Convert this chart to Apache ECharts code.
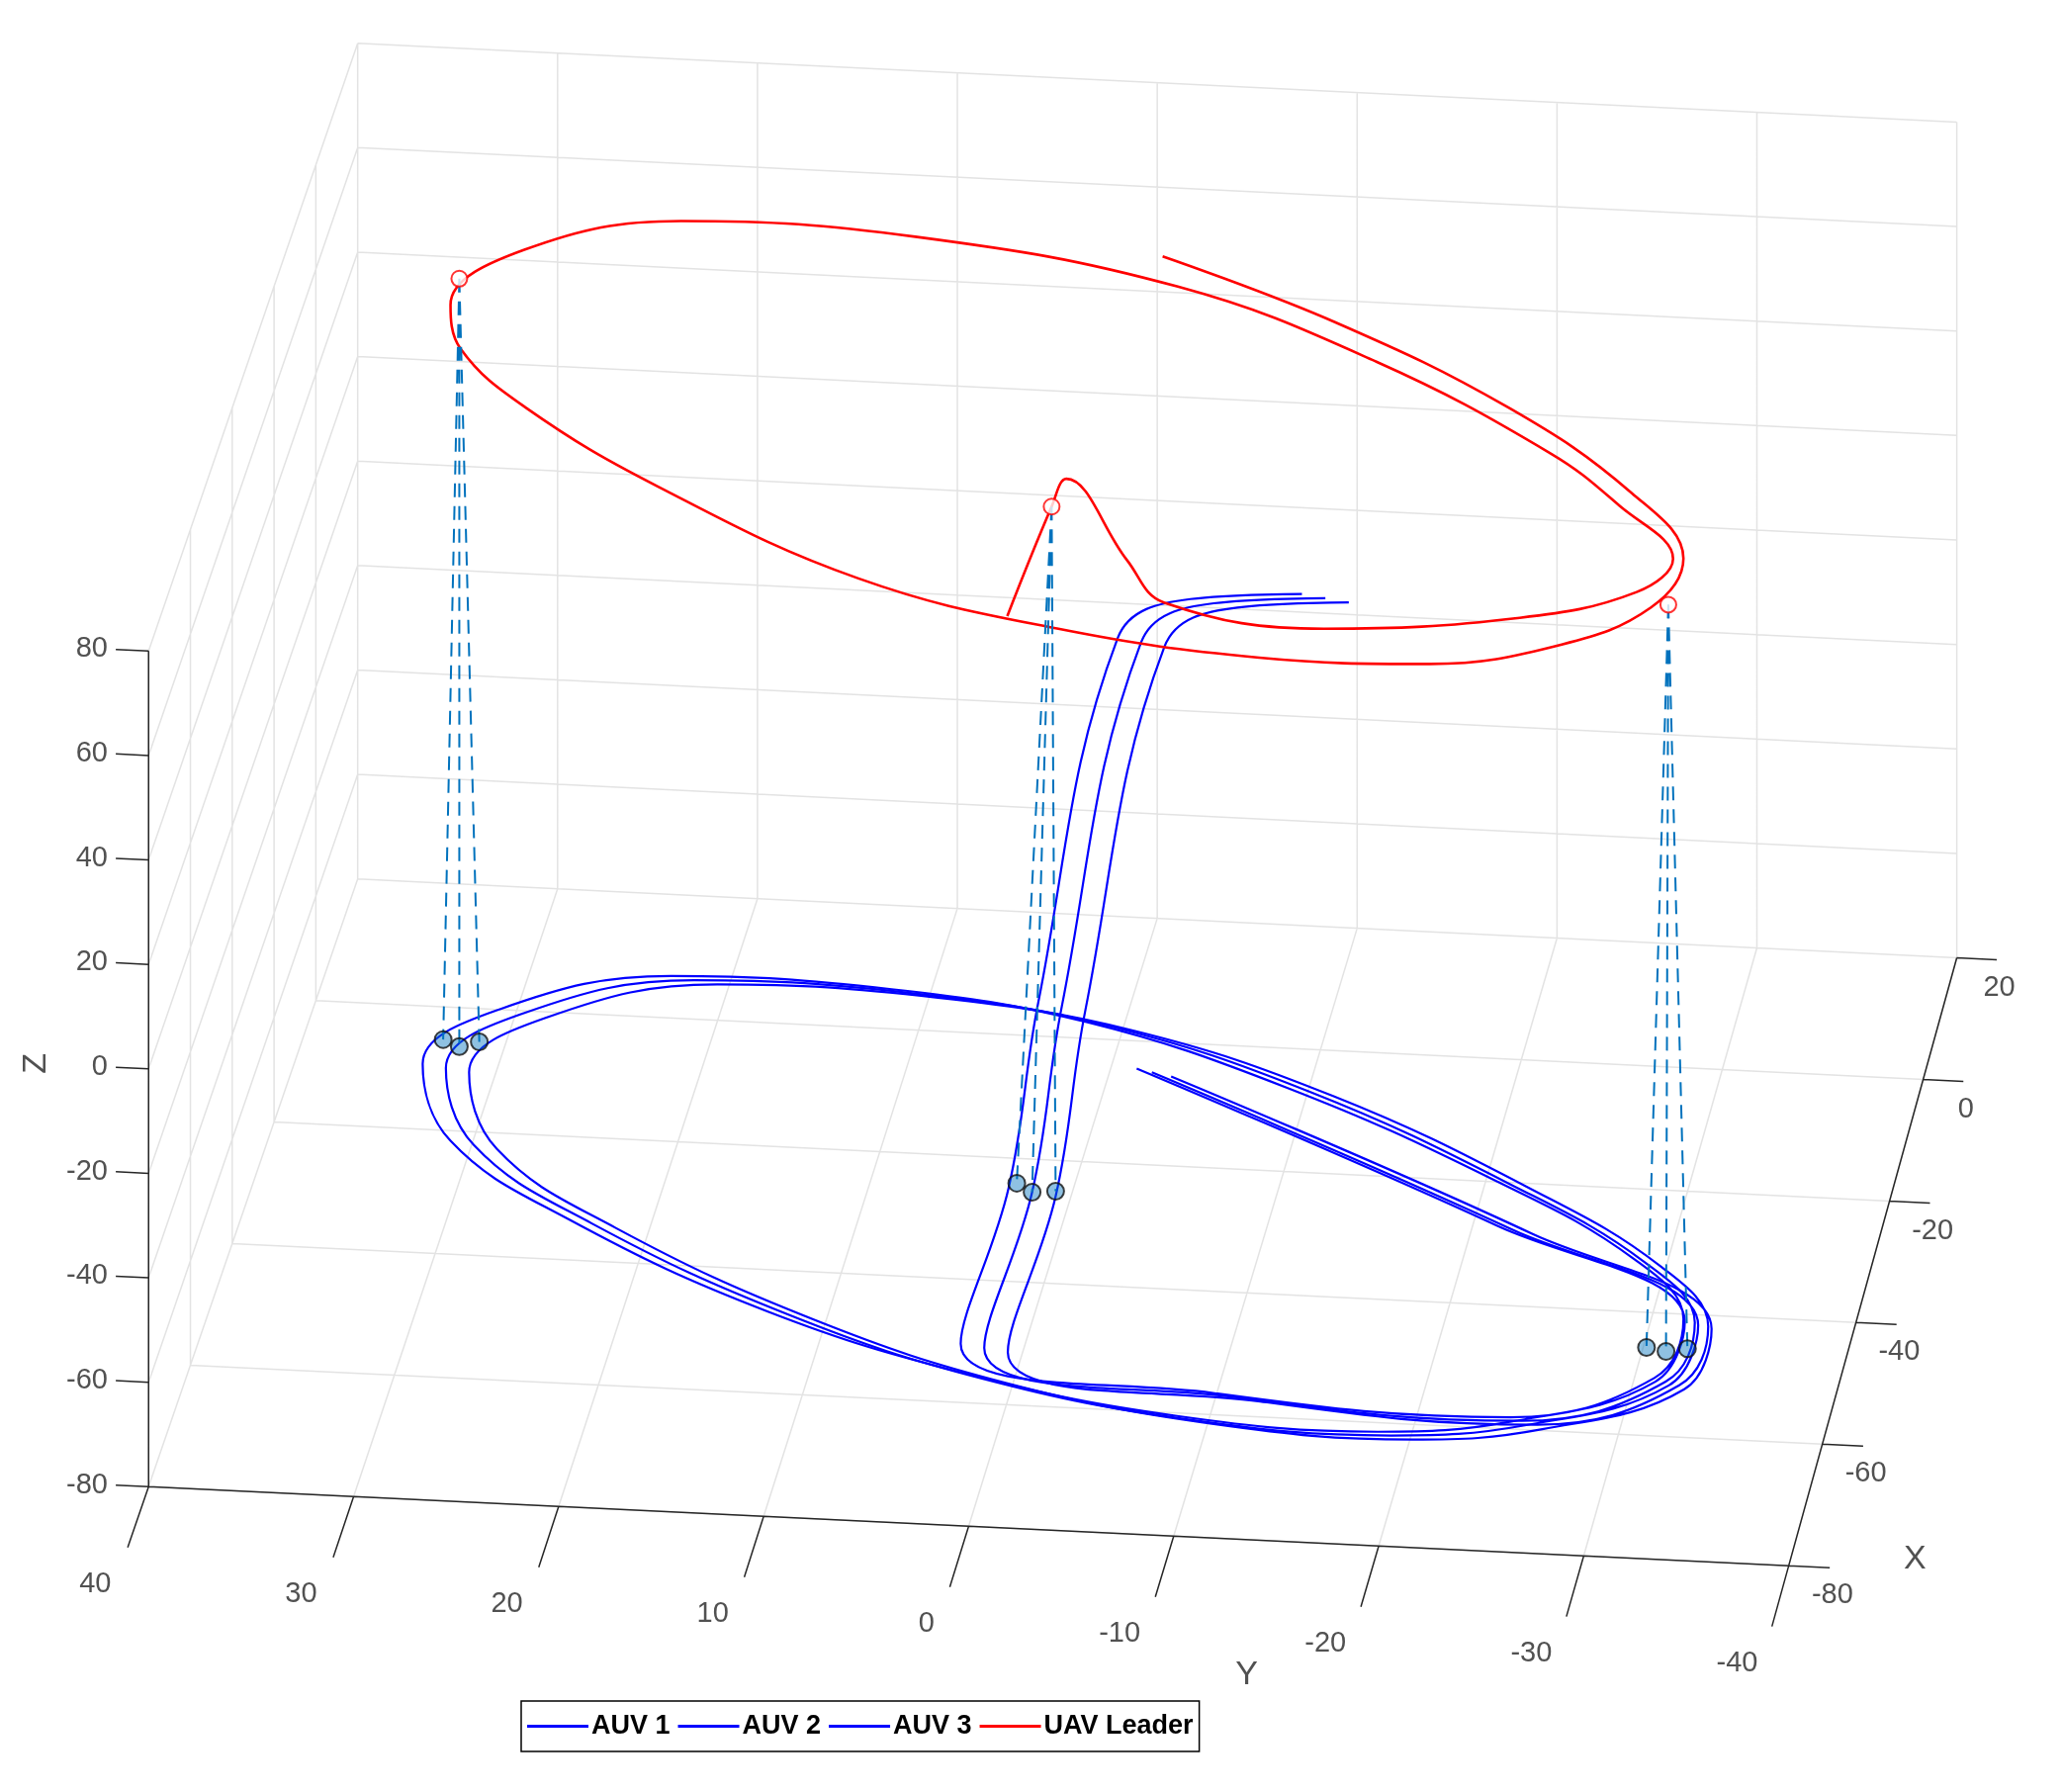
<!DOCTYPE html>
<html>
<head>
<meta charset="utf-8">
<script src="https://cdn.jsdelivr.net/npm/echarts@6/dist/echarts.min.js"></script>
<style>
html, body { margin: 0; padding: 0; background: #fff; }
#chart { width: 2085px; height: 1812px; }
</style>
</head>
<body>
<div id="chart"></div>
<script>
// axis ticks
var xTicks = [-80, -60, -40, -20, 0, 20];
var yTicks = [40, 30, 20, 10, 0, -10, -20, -30, -40];
var zTicks = [-80, -60, -40, -20, 0, 20, 40, 60, 80];

// trajectories [X, Y, Z]
var auv1Path = [
	[-35.5,-12.3,49],[-35.5,-6.8,47],[-36.5,-3.3,40],[-49.5,-0.6,-15],[-54.5,0.4,-45],[-61.5,2.1,-67],[-67.5,-10.8,-67],
	[-69.1,-25.5,-67],[-61.6,-31.9,-67],[-51.8,-32.5,-67],[-42.5,-29.3,-67],[-30.8,-21.4,-67],[-17.4,-9.9,-67],[-8.4,0.8,-67],
	[-4.6,10.9,-67],[-4.2,21.9,-67],[-10.9,29.7,-67],[-20.4,32.6,-67],[-32.6,30,-67],[-44.4,23,-67],[-57.8,11.9,-67],
	[-66.5,1.1,-67],[-71.5,-9.4,-67],[-72.5,-19.3,-67],[-69.8,-25.6,-67],[-62.2,-32,-67],[-52.2,-32.6,-67],
	[-38.2,-22.2,-67],[-15.5,-2.3,-67]
];
var auv2Path = [
	[-36,-13.5,49],[-36,-8,47],[-37,-4.5,40],[-50,-1.8,-15],[-55,-0.8,-45],[-62,0.9,-67],[-68,-12,-67],
	[-69.6,-26.1,-67],[-62.1,-32.5,-67],[-52.3,-33.1,-67],[-43,-29.9,-67],[-31.3,-22.2,-67],[-17.9,-11.1,-67],[-8.9,-0.4,-67],
	[-5.1,9.7,-67],[-4.7,20.7,-67],[-11.4,28.5,-67],[-20.9,31.4,-67],[-33.1,28.8,-67],[-44.9,21.8,-67],[-58.3,10.7,-67],
	[-67,0.5,-67],[-72,-10,-67],[-73,-20,-67],[-70.3,-26.3,-67],[-62.7,-32.7,-67],[-52.7,-33.3,-67],
	[-38.7,-23,-67],[-16,-3.1,-67]
];
var auv3Path = [
	[-36.5,-14.7,49],[-36.5,-9.2,47],[-37.5,-5.7,40],[-50.5,-3,-15],[-55.5,-2,-45],[-62.5,-0.3,-67],[-68.5,-13.2,-67],
	[-70.1,-26.9,-67],[-62.6,-33.2,-67],[-52.8,-33.8,-67],[-43.5,-30.7,-67],[-31.8,-23.2,-67],[-18.4,-12.3,-67],[-9.4,-1.6,-67],
	[-5.6,8.5,-67],[-5.2,19.5,-67],[-11.9,27.3,-67],[-21.4,30.2,-67],[-33.6,27.6,-67],[-45.4,20.6,-67],[-58.8,9.5,-67],
	[-67.5,-0.7,-67],[-72.5,-11.2,-67],[-73.5,-21.1,-67],[-70.8,-27.2,-67],[-63.2,-33.5,-67],[-53.2,-34,-67],
	[-39.2,-24,-67],[-16.5,-4.1,-67]
];
var uavPath = [
	[-38,2,45],[-36,0,64],[-39,-1,73],[-50,-5,71],[-64.2,-8.1,80],[-67.2,-16.2,80],[-63.9,-25.5,80],[-58.8,-30.8,80],
	[-53.1,-32.1,80],[-45,-28.8,80],[-37,-24.7,80],[-23.5,-14.9,80],[-12.9,-4.1,80],[-6.9,9.5,80],[-6.2,21.2,80],[-12.1,28.4,80],
	[-21.6,31.1,80],[-28.6,29.9,80],[-37.6,25.8,80],[-49.4,18.1,80],[-62.7,7,80],[-69.3,-3.4,80],[-72.4,-13.5,80],
	[-72.1,-21.8,80],[-67.9,-27.9,80],[-61.2,-31.7,80],[-53,-32.6,80],[-42.8,-29.2,80],[-29.9,-22,80],[-17.4,-12.3,80],
	[-8.1,-2.9,80]
];

// snapshot markers (3 instants)
var uavMarks = [[-17.3,31.1,80],[-36,0,64],[-60.6,-32.5,80]];
var auv1Marks = [[-16.3,32,-67],[-54.5,0,-44],[-56.7,-31.1,-67]];
var auv2Marks = [[-17.3,31.1,-67],[-55,-0.8,-45],[-57.2,-32.1,-67]];
var auv3Marks = [[-16.4,30.2,-67],[-55.5,-2,-44],[-56.6,-33.1,-67]];

var W = 1568, H = 1362;

// MATLAB-like view, mapped to picture space
function proj(p) {
	var a = 40 - p[1], b = p[0] + 80;
	return [113 + a * (15.59 - 0.0039 * b) + 1.59 * b,
		1130 + 0.75 * a - 4.62 * b - 3.97 * (p[2] + 80)];
}
function segs(list) {
	var out = [];
	list.forEach(function (s) {
		out.push(proj(s[0]), proj(s[1]), ['-', '-']);
	});
	return out;
}

var gridSegs = [];
yTicks.forEach(function (y) {
	gridSegs.push([[20, y, -80], [20, y, 80]]);
	gridSegs.push([[-80, y, -80], [20, y, -80]]);
});
zTicks.forEach(function (z) {
	gridSegs.push([[20, 40, z], [20, -40, z]]);
	gridSegs.push([[-80, 40, z], [20, 40, z]]);
});
xTicks.forEach(function (x) {
	gridSegs.push([[x, 40, -80], [x, 40, 80]]);
	gridSegs.push([[x, 40, -80], [x, -40, -80]]);
});

var axisSegs = [
	[[-80, 40, -80], [-80, 40, 80]],
	[[-80, 40, -80], [-80, -40, -80]],
	[[-80, -40, -80], [20, -40, -80]]
];
zTicks.forEach(function (z) { axisSegs.push([[-80, 40, z], [-80, 41.6, z]]); });
yTicks.forEach(function (y) { axisSegs.push([[-80, y, -80], [-90, y, -80]]); });
xTicks.forEach(function (x) { axisSegs.push([[x, -40, -80], [x, -42, -80]]); });

var dashSegs = [];
[auv1Marks, auv2Marks, auv3Marks].forEach(function (m) {
	for (var i = 0; i < 3; i++) dashSegs.push([uavMarks[i], m[i]]);
});

var FONT = "'Liberation Sans', Arial, sans-serif";
function lbl(p, t) { var q = proj(p); return [q[0], q[1], t]; }
var tickFont = { fontFamily: FONT, fontSize: 29, color: '#262626' };

var chart = echarts.init(document.getElementById('chart'));
var pathStyle = function (name, data, color, w) {
	return {
		name: name, type: 'line', data: data.map(proj), smooth: 0.4,
		showSymbol: false, silent: true, clip: false,
		lineStyle: { color: color, width: w }, itemStyle: { color: color }, z: 5
	};
};
var labelSeries = function (data, pos, extra) {
	return {
		type: 'scatter', symbolSize: 0, silent: true, data: data, z: 3,
		label: Object.assign({ show: true, position: pos, distance: 4, formatter: function (p) { return p.value[2]; } }, tickFont, extra || {})
	};
};

chart.setOption({
	animation: false,
	backgroundColor: '#fff',
	grid: { left: 0, right: 0, top: 0, bottom: 0 },
	xAxis: { type: 'value', min: 0, max: W, show: false },
	yAxis: { type: 'value', min: 0, max: H, inverse: true, show: false },
	legend: {
		data: ['AUV 1', 'AUV 2', 'AUV 3', 'UAV Leader'],
		left: 527, top: 1720,
		icon: 'rect', itemWidth: 62, itemHeight: 3, itemGap: 8,
		borderColor: '#000', borderWidth: 1.5, padding: [12, 6, 12, 6],
		textStyle: { fontFamily: FONT, fontWeight: 'bold', fontSize: 27, color: '#000', padding: [0, 0, 0, -2] }
	},
	series: [
		{ type: 'line', data: segs(gridSegs), silent: true, showSymbol: false, connectNulls: false,
			lineStyle: { color: '#e3e3e3', width: 1.5 }, z: 1 },
		{ type: 'line', data: segs(axisSegs), silent: true, showSymbol: false, connectNulls: false, clip: false,
			lineStyle: { color: '#262626', width: 1.5 }, z: 2 },
		labelSeries(zTicks.map(function (z) { return lbl([-80, 41.8, z], String(z)); }), 'left'),
		labelSeries(yTicks.map(function (y) { return lbl([-96, y, -80], String(y)); }), 'left'),
		labelSeries(xTicks.map(function (x) { return lbl([x - 4.5, -42.5, -80], String(x)); }), 'inside'),
		labelSeries([lbl([-102, -15.5, -80], 'Y'), lbl([-78, -46, -80], 'X')], 'inside', { fontSize: 34 }),
		labelSeries([lbl([-80, 45.5, 0], 'Z')], 'inside', { fontSize: 34, rotate: 90 }),
		pathStyle('AUV 1', auv1Path, '#0000ff', 2.2),
		pathStyle('AUV 2', auv2Path, '#0000ff', 2.2),
		pathStyle('AUV 3', auv3Path, '#0000ff', 2.2),
		pathStyle('UAV Leader', uavPath, '#ff0000', 2.6),
		{ type: 'line', data: segs(dashSegs), silent: true, showSymbol: false, connectNulls: false,
			lineStyle: { color: '#0072bd', width: 2, type: [14, 9] }, z: 6 },
		{ type: 'scatter', silent: true, symbol: 'emptyCircle', symbolSize: 16,
			data: uavMarks.map(proj), itemStyle: { color: '#ff0000', borderWidth: 2 }, z: 7 },
		{ type: 'scatter', silent: true, symbol: 'circle', symbolSize: 17,
			data: auv1Marks.concat(auv2Marks, auv3Marks).map(proj),
			itemStyle: { color: 'rgba(0,114,189,0.55)', borderColor: '#111', borderWidth: 2 }, z: 7 }
	]
});
</script>
</body>
</html>
